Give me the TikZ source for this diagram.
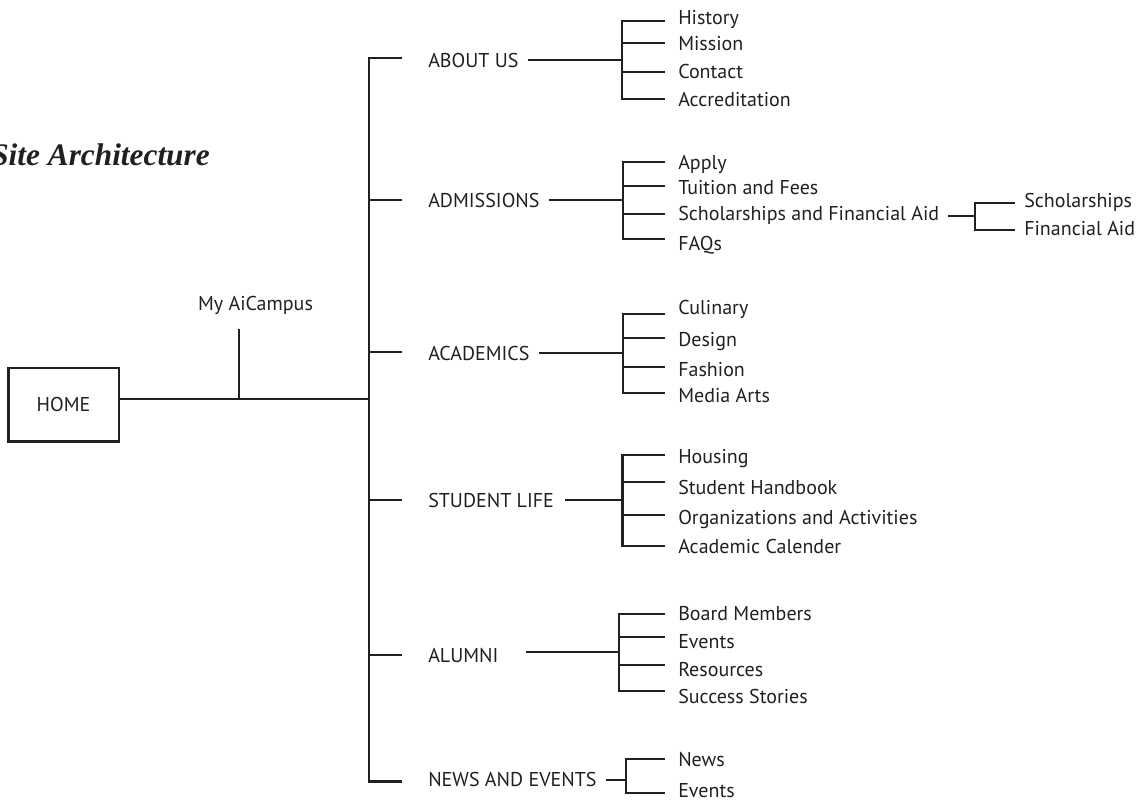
\documentclass[tikz,border=0pt]{standalone}
\usepackage{fontspec}
\setmainfont{Liberation Serif}
\newfontfamily\labelfont{PT Sans}
\definecolor{ink}{RGB}{35,31,32}
\tikzset{
  top/.style={font=\labelfont\fontsize{15}{17}\selectfont, anchor=base west, inner sep=0pt},
  leaf/.style={top},
  branch/.style={shorten <=18.75pt, shorten >=18.75pt},
  twig/.style={shorten <=9pt, shorten >=9pt},
  joint/.style={shorten <=6pt}
}
\begin{document}
\begin{tikzpicture}[x=0.75pt, y=-0.75pt, line width=1.9pt, color=ink]
\useasboundingbox (0,0) rectangle (1139,801);

\node[font=\bfseries\itshape\fontsize{23.5}{27}\selectfont, anchor=base east, inner sep=0pt] (title) at (211,165) {Site Architecture};

% home and trunk
\node[draw, line width=2pt, minimum width=83pt, minimum height=55pt, font=\labelfont\fontsize{15}{17}\selectfont] (home) at (63.5,404.5) {HOME};
\node[top, anchor=base] (myai) at (255.5,310) {My AiCampus};
\coordinate (hub) at (369,399);
\coordinate (tick) at (239,329);
\draw (home.east |- hub) -- (hub);
\draw (tick) -- (tick |- hub);

\node[top] (about) at (427,67.5) {ABOUT US};
\node[top] (adm) at (427,207) {ADMISSIONS};
\node[top] (acad) at (427,360) {ACADEMICS};
\node[top] (stud) at (427,507) {STUDENT LIFE};
\node[top] (alum) at (427,662.5) {ALUMNI};
\node[top] (news) at (427,786.5) {NEWS AND EVENTS};
\coordinate (t-about) at (369,58);
\coordinate (t-adm) at (369,200);
\coordinate (t-acad) at (369,352);
\coordinate (t-stud) at (369,500);
\coordinate (t-alum) at (369,655);
\coordinate (t-news) at (369,781.5);
\draw[branch] (about.west |- t-about) -- (t-about) -- (t-news) -- (news.west |- t-news);
\draw[branch, shorten <=0pt] (t-adm) -- (adm.west |- t-adm);
\draw[branch, shorten <=0pt] (t-acad) -- (acad.west |- t-acad);
\draw[branch, shorten <=0pt] (t-stud) -- (stud.west |- t-stud);
\draw[branch, shorten <=0pt] (t-alum) -- (alum.west |- t-alum);

% about us
\node[leaf] (history) at (677,24) {History};
\node[leaf] (mission) at (677,50.5) {Mission};
\node[leaf] (contact) at (677,78) {Contact};
\node[leaf] (accred) at (677,106) {Accreditation};
\coordinate (j-about) at (622,60);
\coordinate (s-history) at (622,21);
\coordinate (s-mission) at (622,43);
\coordinate (s-contact) at (622,72);
\coordinate (s-accred) at (622,99);
\draw[joint] (about.east |- j-about) -- (j-about);
\draw[twig] (history.west |- s-history) -- (s-history) -- (s-accred) -- (accred.west |- s-accred);
\draw[twig, shorten <=0pt] (s-mission) -- (mission.west |- s-mission);
\draw[twig, shorten <=0pt] (s-contact) -- (contact.west |- s-contact);

% admissions
\node[leaf] (apply) at (677,169) {Apply};
\node[leaf] (tuition) at (677,194) {Tuition and Fees};
\node[leaf] (scholfin) at (677,220) {Scholarships and Financial Aid};
\node[leaf] (faqs) at (677,250) {FAQs};
\coordinate (j-adm) at (623,200);
\coordinate (s-apply) at (623,162);
\coordinate (s-tuition) at (623,186);
\coordinate (s-scholfin) at (623,214);
\coordinate (s-faqs) at (623,239);
\draw[joint] (adm.east |- j-adm) -- (j-adm);
\draw[twig] (apply.west |- s-apply) -- (s-apply) -- (s-faqs) -- (faqs.west |- s-faqs);
\draw[twig, shorten <=0pt] (s-tuition) -- (tuition.west |- s-tuition);
\draw[twig, shorten <=0pt] (s-scholfin) -- (scholfin.west |- s-scholfin);

\node[leaf] (schol) at (1023,207) {Scholarships};
\node[leaf] (finaid) at (1023,235) {Financial Aid};
\coordinate (j-scholfin) at (975,216);
\coordinate (s-schol) at (975,203);
\coordinate (s-finaid) at (975,230);
\draw[joint] (scholfin.east |- j-scholfin) -- (j-scholfin);
\draw[shorten <=6pt, shorten >=6pt] (schol.west |- s-schol) -- (s-schol) -- (s-finaid) -- (finaid.west |- s-finaid);

% academics
\node[leaf] (culinary) at (677,314.5) {Culinary};
\node[leaf] (design) at (677,346) {Design};
\node[leaf] (fashion) at (677,376) {Fashion};
\node[leaf] (media) at (677,402.5) {Media Arts};
\coordinate (j-acad) at (623,353);
\coordinate (s-culinary) at (623,314);
\coordinate (s-design) at (623,338);
\coordinate (s-fashion) at (623,367);
\coordinate (s-media) at (623,393);
\draw[joint] (acad.east |- j-acad) -- (j-acad);
\draw[twig] (culinary.west |- s-culinary) -- (s-culinary) -- (s-media) -- (media.west |- s-media);
\draw[twig, shorten <=0pt] (s-design) -- (design.west |- s-design);
\draw[twig, shorten <=0pt] (s-fashion) -- (fashion.west |- s-fashion);

% student life
\node[leaf] (housing) at (677,463) {Housing};
\node[leaf] (handbook) at (677,494) {Student Handbook};
\node[leaf] (orgs) at (677,524) {Organizations and Activities};
\node[leaf] (calender) at (677,553) {Academic Calender};
\coordinate (j-stud) at (622.5,500);
\coordinate (s-housing) at (622.5,455);
\coordinate (s-handbook) at (622.5,482);
\coordinate (s-orgs) at (622.5,515);
\coordinate (s-calender) at (622.5,546);
\draw[shorten <=7.5pt] (stud.east |- j-stud) -- (j-stud);
\draw[twig] (housing.west |- s-housing) -- (s-housing) -- (s-calender) -- (calender.west |- s-calender);
\draw[twig, shorten <=0pt] (s-handbook) -- (handbook.west |- s-handbook);
\draw[twig, shorten <=0pt] (s-orgs) -- (orgs.west |- s-orgs);

% alumni
\node[leaf] (board) at (677,620.5) {Board Members};
\node[leaf] (events) at (677,648) {Events};
\node[leaf] (resources) at (677,676) {Resources};
\node[leaf] (success) at (677,703) {Success Stories};
\coordinate (j-alum) at (619,652);
\coordinate (s-board) at (619,614);
\coordinate (s-events) at (619,637);
\coordinate (s-resources) at (619,665);
\coordinate (s-success) at (619,691);
\draw[shorten <=20pt] (alum.east |- j-alum) -- (j-alum);
\draw[twig] (board.west |- s-board) -- (s-board) -- (s-success) -- (success.west |- s-success);
\draw[twig, shorten <=0pt] (s-events) -- (events.west |- s-events);
\draw[twig, shorten <=0pt] (s-resources) -- (resources.west |- s-resources);

% news and events
\node[leaf] (newsitem) at (677,766.5) {News};
\node[leaf] (eventsitem) at (677,797.5) {Events};
\coordinate (j-news) at (626,780);
\coordinate (s-newsitem) at (626,759);
\coordinate (s-eventsitem) at (626,793);
\draw[joint] (news.east |- j-news) -- (j-news);
\draw[twig] (newsitem.west |- s-newsitem) -- (s-newsitem) -- (s-eventsitem) -- (eventsitem.west |- s-eventsitem);
\end{tikzpicture}
\end{document}
